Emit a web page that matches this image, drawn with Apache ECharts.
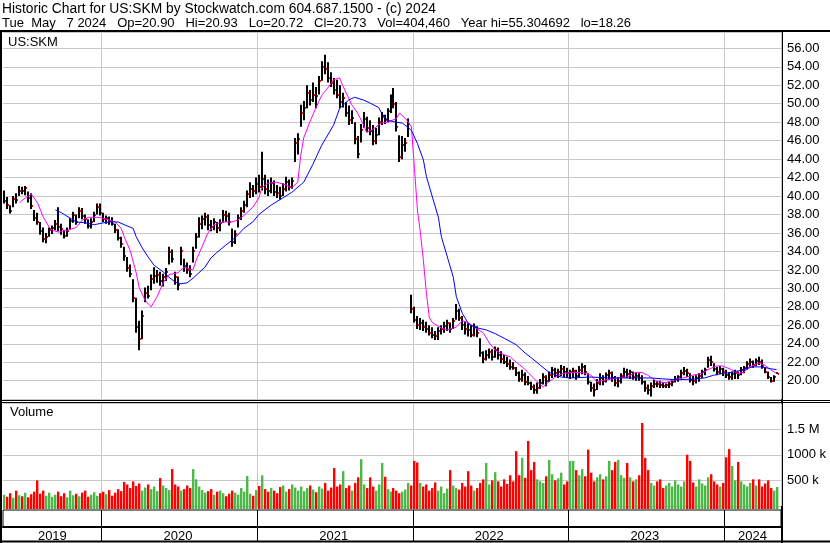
<!DOCTYPE html>
<html><head><meta charset="utf-8">
<script src="https://cdn.jsdelivr.net/npm/echarts@6/dist/echarts.min.js"></script>
<style>html,body{margin:0;padding:0;background:#fff;}#c{width:830px;height:543px;}</style>
</head><body><div id="c"></div>
<script>
// ---------- DATA ----------
const years = ['2019','2020','2021','2022','2023','2024'];
const weeksPerYear = [33,52,52,52,52,19];

const high = [
40.6,39.9,39.0,40.0,40.3,41.1,41.0,41.1,40.5,40.3,
38.5,38.2,37.2,36.6,36.0,36.6,36.8,37.4,38.8,37.0,
36.3,36.6,37.6,38.3,38.0,38.8,38.7,38.0,37.5,37.6,
38.3,39.2,39.2,38.2,37.9,37.8,37.7,37.0,36.4,35.6,
34.5,33.4,32.6,31.0,29.0,26.5,27.6,30.1,30.3,31.5,
32.3,32.0,31.8,31.6,32.2,34.5,34.2,31.8,31.3,34.5,
33.2,32.8,32.5,34.5,36.0,37.7,37.9,38.2,38.0,37.4,
37.6,37.2,37.5,38.5,38.4,38.2,36.5,36.3,38.0,38.8,
39.5,40.6,41.5,41.2,42.0,42.3,44.8,42.3,41.8,42.0,
41.7,41.2,41.0,41.4,42.1,41.8,42.0,46.3,46.8,49.9,
50.3,52.0,51.5,52.3,51.8,53.0,54.6,55.3,54.5,53.4,
52.8,52.6,52.0,51.2,50.2,49.8,49.3,48.0,46.5,47.8,
49.1,48.6,48.2,47.7,47.4,48.5,49.1,48.8,49.5,51.0,
51.7,50.2,46.6,46.5,46.3,48.4,29.3,28.0,27.0,26.8,
26.6,26.4,26.0,25.8,25.4,25.8,26.0,26.4,26.6,26.3,
26.8,28.3,27.8,27.0,26.4,26.2,26.0,26.2,25.9,24.6,
23.2,23.3,23.5,23.4,23.7,23.6,23.2,22.8,22.6,22.3,
22.0,21.5,21.0,21.2,20.9,20.5,19.9,19.6,19.8,20.2,
20.8,20.6,21.0,21.5,21.4,21.3,21.7,21.6,21.4,21.2,
21.4,21.2,21.6,21.9,21.7,20.8,19.9,19.7,20.2,20.8,
20.6,20.9,21.2,21.0,20.5,20.4,20.8,21.4,21.3,21.2,
21.0,20.9,20.8,20.6,20.0,19.6,19.8,20.1,20.0,20.0,
19.8,19.7,19.9,20.2,20.5,20.6,21.2,21.5,21.3,20.8,
20.5,20.6,20.8,21.2,21.4,22.6,22.7,21.9,21.5,21.6,
21.4,21.2,20.9,21.0,21.2,21.0,21.5,21.6,22.1,22.4,
22.2,22.4,22.6,22.3,21.5,21.0,20.4,20.6,20.93
];
const low = [
39.2,38.6,38.1,38.8,39.2,40.0,40.2,40.1,39.3,38.6,
37.3,36.9,35.8,35.0,34.9,35.6,35.9,36.3,36.2,35.8,
35.4,35.6,36.4,37.1,36.9,37.6,37.5,37.0,36.5,36.5,
37.2,38.0,37.9,37.2,37.0,36.9,36.8,36.0,35.2,34.4,
33.0,31.8,31.2,28.5,25.2,23.3,24.5,28.5,28.9,29.8,
30.5,30.6,30.3,30.2,30.8,32.6,32.8,30.4,29.8,32.5,
31.8,31.6,31.2,32.8,34.3,35.5,36.4,36.8,36.3,36.2,
36.3,36.0,36.2,37.1,37.2,36.8,34.5,34.8,36.6,37.4,
38.2,38.8,39.8,39.9,40.2,40.4,40.6,40.2,40.0,40.3,
40.0,39.8,39.6,40.0,40.5,40.6,40.8,43.7,44.5,47.5,
48.2,49.5,49.8,50.2,49.5,51.0,52.5,53.2,52.3,51.8,
51.0,50.6,49.5,49.6,48.6,47.7,47.8,45.6,44.1,45.8,
47.4,46.9,46.6,45.5,45.6,46.6,47.7,47.8,48.0,49.0,
49.5,47.0,43.7,44.0,44.8,46.4,27.3,26.3,25.6,25.5,
25.4,25.2,24.9,24.6,24.4,24.4,25.0,25.2,25.4,25.2,
25.6,26.6,26.5,25.5,25.0,24.8,24.7,24.8,24.7,22.6,
21.9,22.2,22.4,22.2,22.5,22.3,21.9,21.8,21.5,21.2,
21.2,20.5,19.9,19.9,19.5,19.5,19.0,18.6,18.6,19.1,
19.6,19.4,19.9,20.3,20.4,20.3,20.5,20.4,20.3,20.2,
20.3,20.1,20.4,20.7,20.6,19.6,18.8,18.3,19.0,19.5,
19.5,19.8,20.1,19.9,19.4,19.3,19.7,20.3,20.3,20.2,
20.1,20.0,20.0,19.6,18.8,18.5,18.3,19.2,19.3,19.2,
19.2,19.2,19.2,19.4,19.8,19.9,20.2,20.6,20.4,19.8,
19.5,19.7,19.9,20.3,20.6,21.4,21.6,21.0,20.6,20.7,
20.5,20.3,20.1,20.1,20.2,20.2,20.6,20.8,21.2,21.5,
21.4,21.6,21.7,21.3,20.8,20.2,19.8,19.9,20.72
];
const close = [
39.5,39.0,38.4,39.7,39.6,40.6,40.5,40.9,39.8,38.9,
37.6,37.2,36.2,35.3,35.6,36.3,36.5,37.0,36.6,36.4,
35.7,36.2,37.3,37.9,37.2,38.4,37.8,37.5,36.8,37.2,
38.0,38.8,38.2,37.5,37.6,37.3,37.0,36.3,35.5,34.8,
33.5,32.2,31.6,29.0,25.8,24.5,27.0,29.5,29.2,31.0,
31.3,31.5,30.8,31.2,31.8,33.9,33.2,31.2,30.4,34.0,
32.4,32.0,31.6,34.0,35.6,37.0,37.5,37.7,36.9,36.6,
37.2,36.5,37.1,38.0,37.8,37.2,35.0,35.9,37.6,38.4,
39.0,40.2,40.8,40.5,41.3,41.0,41.8,40.8,40.6,41.4,
40.4,40.3,40.0,40.8,41.5,41.0,41.6,45.8,46.2,49.0,
49.5,51.2,50.4,51.0,50.8,52.5,54.0,53.8,52.8,52.2,
51.5,51.0,50.2,50.6,49.0,48.2,48.5,46.2,44.6,47.2,
48.4,47.4,47.0,46.0,46.6,48.0,48.6,48.2,49.2,50.6,
50.0,47.5,44.2,45.5,45.8,47.8,27.8,26.6,26.0,26.2,
25.8,25.6,25.2,25.0,24.8,25.4,25.6,25.9,26.2,25.6,
26.5,27.5,26.8,26.0,25.6,25.5,25.0,25.8,25.2,23.0,
22.4,22.8,23.1,22.6,23.3,22.8,22.3,22.0,21.8,21.5,
21.4,20.8,20.2,20.6,19.9,19.8,19.3,19.0,19.2,19.8,
20.4,20.0,20.6,21.2,20.8,21.0,21.3,20.9,20.8,20.9,
21.1,20.5,21.2,21.5,21.0,19.9,19.2,19.0,19.8,20.3,
20.0,20.6,20.8,20.3,19.8,20.0,20.5,21.0,20.7,20.9,
20.4,20.5,20.3,19.9,19.2,19.0,19.4,19.7,19.6,19.5,
19.4,19.5,19.6,19.9,20.2,20.4,20.8,21.1,20.8,20.1,
20.0,20.3,20.5,20.9,21.2,22.2,22.0,21.3,21.0,21.3,
20.9,20.6,20.4,20.7,20.8,20.6,21.2,21.4,21.8,22.0,
21.7,22.1,22.0,21.6,21.0,20.4,20.0,20.4,20.73
];
// volume, thousands of shares
const volume = [
220,180,250,160,300,210,190,260,170,230,
280,500,240,300,200,260,180,220,280,190,
250,170,300,210,240,190,260,300,180,220,
270,200,250,
280,230,310,200,260,330,290,
470,420,350,480,390,440,300,360,420,330,
380,290,545,400,350,310,720,420,380,300,
330,400,350,720,520,380,310,260,290,330,
220,280,300,250,190,240,300,260,220,350,
280,585,240,200,310,
390,600,330,280,350,
300,250,370,400,280,330,420,360,300,380,
290,350,400,320,270,380,340,450,300,360,
740,380,420,680,350,400,300,450,560,915,
420,350,560,380,300,420,840,570,330,280,
350,300,250,280,320,450,400,
880,850,450,
380,420,300,350,460,300,380,250,340,700,
400,350,320,450,380,680,400,300,350,450,
520,840,420,500,660,480,380,520,430,600,
480,1070,600,940,550,1270,700,860,520,480,
450,580,900,620,500,540,650,420,480,
880,880,700,600,720,580,1100,650,480,560,620,
520,580,880,700,860,900,600,550,840,560,
480,520,600,1620,940,700,450,400,480,520,
350,400,450,380,500,420,380,480,1000,880,
460,380,520,440,400,560,620,480,420,380,450,
950,1110,780,500,860,480,420,380,450,
520,400,520,380,440,500,350,300,370
];
// short moving average (magenta), [week, price]
const fastMA = [
[5,39.3],[7,39.8],[9,40.2],[11,39.3],[13,37.7],[15,36.6],[16,36.3],[18,36.1],[21,36.3],[24,36.6],
[26,37.4],[28,37.7],[31,37.7],[33,37.6],[35,37.4],[37,37.2],[39,36.5],[40,35.6],[42,34.1],[44,31.7],
[45,30.1],[47,28.7],[49,28.0],[51,29.1],[53,30.6],[55,31.5],[58,31.7],[60,32.3],[63,32.0],[64,33.0],
[66,34.5],[68,36.0],[70,36.9],[73,37.2],[76,37.2],[78,37.4],[80,37.9],[83,38.8],[85,39.8],[86,40.9],
[88,41.4],[91,41.5],[94,41.2],[96,40.9],[98,41.5],[99,44.4],[100,46.3],[102,48.0],[104,49.5],[106,50.9],
[108,51.7],[110,52.6],[112,52.8],[113,52.0],[115,50.6],[116,49.9],[118,49.0],[120,47.7],[121,46.9],[123,47.2],
[125,47.7],[126,47.9],[128,48.0],[131,48.4],[132,49.0],[134,48.4],[136,47.5],[137,43.0],[138,38.5],[139,36.0],
[140,33.0],[141,29.5],[142,26.8],[143,26.3],[146,25.7],[148,25.5],[151,25.8],[153,26.5],[155,26.3],[157,25.8],
[160,25.2],[162,24.1],[164,23.3],[167,22.8],[169,22.6],[171,22.0],[173,21.5],[175,20.9],[178,19.9],[180,19.3],
[182,19.9],[185,20.6],[187,20.8],[190,20.9],[193,20.9],[196,20.6],[198,19.9],[201,20.1],[205,20.3],[208,20.4],
[211,20.9],[213,20.9],[215,20.6],[218,19.9],[221,19.8],[224,20.1],[228,20.4],[230,20.6],[233,20.8],[235,21.2],
[238,21.6],[240,21.6],[243,21.2],[245,20.8],[247,20.9],[249,21.5],[252,21.9],[254,21.7],[256,21.2],[258,20.8]
];
// long moving average (blue), [week, price]
const slowMA = [
[17,38.5],[19,38.2],[22,37.6],[24,37.2],[27,37.1],[30,36.9],[33,37.1],[35,37.2],[38,37.2],[40,36.9],
[43,36.5],[44,35.6],[46,34.4],[48,33.4],[50,32.5],[53,31.8],[55,31.2],[57,30.7],[59,30.5],[61,30.6],
[63,31.1],[65,31.7],[67,32.3],[69,33.3],[71,33.9],[74,34.7],[76,35.2],[78,35.8],[80,36.5],[83,37.2],
[85,38.0],[89,39.0],[93,39.8],[96,40.4],[100,41.5],[103,43.4],[106,45.5],[110,47.7],[112,49.5],[115,50.4],
[117,50.7],[120,50.4],[122,50.1],[125,49.6],[126,49.0],[128,48.2],[131,48.0],[133,47.9],[135,47.4],[136,47.1],
[138,45.7],[140,43.9],[141,42.1],[143,39.9],[145,37.7],[146,35.6],[148,33.4],[150,31.2],[151,29.1],[153,27.3],
[155,26.2],[157,25.8],[161,25.5],[164,25.1],[167,24.6],[171,23.9],[174,23.0],[176,22.5],[179,21.7],[182,20.9],
[186,20.4],[189,20.3],[196,20.4],[202,20.3],[209,20.3],[216,20.3],[220,20.2],[225,20.1],[231,20.2],[234,20.3],
[237,20.6],[240,20.8],[243,20.9],[247,21.2],[250,21.5],[253,21.5],[256,21.3],[258,21.2]
];
const priceLabelMin = 20, priceLabelMax = 56;
const volumeLabels = {500:'500 k',1000:'1000 k',1500:'1.5 M'};
const headerLine1 = 'Historic Chart for US:SKM by Stockwatch.com 604.687.1500 - (c) 2024';
const headerLine2 = 'Tue  May   7 2024   Op=20.90   Hi=20.93   Lo=20.72   Cl=20.73   Vol=404,460   Year hi=55.304692   lo=18.26';

// ---------- BUILD ----------
const FONT = '"Liberation Sans", Arial, sans-serif';
const categories = [];
const yearStart = [];
const yearMid = {};
years.forEach((y, k) => {
  yearStart.push(categories.length);
  const s = categories.length;
  for (let w = 0; w < weeksPerYear[k]; w++) categories.push(y + '-W' + (w + 1));
  yearMid[Math.floor((s + categories.length - 1) / 2)] = y;
});
const N = categories.length;
const isYearStart = (i) => yearStart.indexOf(i) > 0;

const ohlc = high.map((h, i) => [i, h, low[i], close[i]]);
function toLine(pairs) {
  const a = new Array(N).fill(null);
  pairs.forEach(p => { a[p[0]] = p[1]; });
  return a;
}
const volData = volume.map((v, i) => [i, v, (i > 0 && close[i] < close[i - 1]) ? 0 : 1]);

const chart = echarts.init(document.getElementById('c'), null, { renderer: 'canvas' });
const gridL = 3, gridR = 49;
chart.setOption({
  animation: false,
  backgroundColor: '#ffffff',
  textStyle: { fontFamily: FONT },
  grid: [
    { left: gridL, right: gridR, top: 32, height: 367.2 },
    { left: gridL, right: gridR, top: 403.5, height: 102.5 },
    { left: gridL, right: gridR, top: 510, height: 17, show: true, borderColor: '#000', borderWidth: 1 }
  ],
  xAxis: [
    { type: 'category', gridIndex: 0, data: categories, boundaryGap: true,
      axisLine: { show: false }, axisTick: { show: false }, axisLabel: { show: false },
      splitLine: { show: true, interval: (i) => isYearStart(i), lineStyle: { color: '#c8c8c8', width: 1 } } },
    { type: 'category', gridIndex: 1, data: categories, boundaryGap: true,
      axisLine: { show: false }, axisTick: { show: false }, axisLabel: { show: false },
      splitLine: { show: true, interval: (i) => isYearStart(i), lineStyle: { color: '#c8c8c8', width: 1 } } },
    { type: 'category', gridIndex: 2, data: categories, boundaryGap: true,
      axisLine: { show: true, lineStyle: { color: '#000', width: 2 } },
      axisTick: { show: true, interval: (i) => isYearStart(i), length: 15, lineStyle: { color: '#000', width: 1 } },
      axisLabel: { show: true, interval: (i) => yearMid[i] !== undefined, formatter: (v, i) => yearMid[i] || '',
        fontSize: 13, color: '#000', margin: 3, fontFamily: FONT },
      splitLine: { show: true, interval: (i) => isYearStart(i), lineStyle: { color: '#000', width: 1 } } }
  ],
  yAxis: [
    { type: 'value', gridIndex: 0, position: 'right', min: 18, max: 57.77, interval: 2,
      axisLine: { show: false }, axisTick: { show: false },
      splitLine: { show: true, lineStyle: { color: '#c8c8c8', width: 1 } },
      axisLabel: { margin: 6, fontSize: 13, color: '#000', fontFamily: FONT,
        formatter: (v) => (v >= priceLabelMin - 0.01 && v <= priceLabelMax + 0.01) ? v.toFixed(2) : '' } },
    { type: 'value', gridIndex: 1, position: 'right', min: 0, max: 2000, interval: 500,
      axisLine: { show: false }, axisTick: { show: false },
      splitLine: { show: true, lineStyle: { color: '#c8c8c8', width: 1 } },
      axisLabel: { margin: 6, fontSize: 13, color: '#000', fontFamily: FONT,
        formatter: (v) => volumeLabels[v] || '' } },
    { type: 'value', gridIndex: 2, show: false }
  ],
  series: [
    { type: 'custom', xAxisIndex: 0, yAxisIndex: 0, data: ohlc, encode: { x: 0, y: [1, 2, 3] },
      renderItem: function (params, api) {
        const x = api.value(0);
        const pH = api.coord([x, api.value(1)]);
        const pL = api.coord([x, api.value(2)]);
        const pC = api.coord([x, api.value(3)]);
        const cx = Math.round(pH[0]);
        return { type: 'group', children: [
          { type: 'rect', shape: { x: cx - 1, y: pH[1], width: 2, height: Math.max(1, pL[1] - pH[1]) }, style: { fill: '#000' } },
          { type: 'rect', shape: { x: cx + 1, y: Math.round(pC[1]) - 1, width: 1, height: 2 }, style: { fill: '#ff0000' } }
        ] };
      }, z: 2 },
    { type: 'line', xAxisIndex: 0, yAxisIndex: 0, data: toLine(fastMA), connectNulls: true, showSymbol: false,
      symbol: 'none', lineStyle: { color: '#ff00ff', width: 1 }, z: 3, silent: true },
    { type: 'line', xAxisIndex: 0, yAxisIndex: 0, data: toLine(slowMA), connectNulls: true, showSymbol: false,
      symbol: 'none', lineStyle: { color: '#0000ff', width: 1 }, z: 4, silent: true },
    { type: 'custom', xAxisIndex: 1, yAxisIndex: 1, data: volData, encode: { x: 0, y: 1 }, clip: false,
      renderItem: function (params, api) {
        const x = api.value(0);
        const pT = api.coord([x, api.value(1)]);
        const p0 = api.coord([x, 0]);
        const cx = Math.round(pT[0]);
        return { type: 'rect', shape: { x: cx - 1, y: pT[1], width: 2.4, height: p0[1] + 3 - pT[1] },
          style: { fill: api.value(2) ? '#4cb848' : '#ff0000' } };
      }, z: 2 }
  ],
  graphic: [
    { type: 'text', left: 2, top: 2, style: { text: headerLine1, font: '13.8px ' + FONT, fill: '#000' } },
    { type: 'text', left: 2, top: 17, style: { text: headerLine2, font: '13px ' + FONT, fill: '#000' } },
    { type: 'text', left: 8, top: 36, style: { text: 'US:SKM', font: '13px ' + FONT, fill: '#000' } },
    { type: 'text', left: 10, top: 406, style: { text: 'Volume', font: '13px ' + FONT, fill: '#000' } },
    { type: 'line', shape: { x1: 0, y1: 31, x2: 830, y2: 31 }, style: { stroke: '#000', lineWidth: 2 } },
    { type: 'line', shape: { x1: 0, y1: 400.5, x2: 830, y2: 400.5 }, style: { stroke: '#000', lineWidth: 1 } },
    { type: 'line', shape: { x1: 0, y1: 402.5, x2: 830, y2: 402.5 }, style: { stroke: '#000', lineWidth: 1 } },
    { type: 'line', shape: { x1: 0, y1: 541.5, x2: 830, y2: 541.5 }, style: { stroke: '#000', lineWidth: 2 } },
    { type: 'line', shape: { x1: 1, y1: 30, x2: 1, y2: 543 }, style: { stroke: '#000', lineWidth: 2 } },
    { type: 'line', shape: { x1: 782, y1: 30, x2: 782, y2: 543 }, style: { stroke: '#000', lineWidth: 2 } }
  ]
});
</script></body></html>
